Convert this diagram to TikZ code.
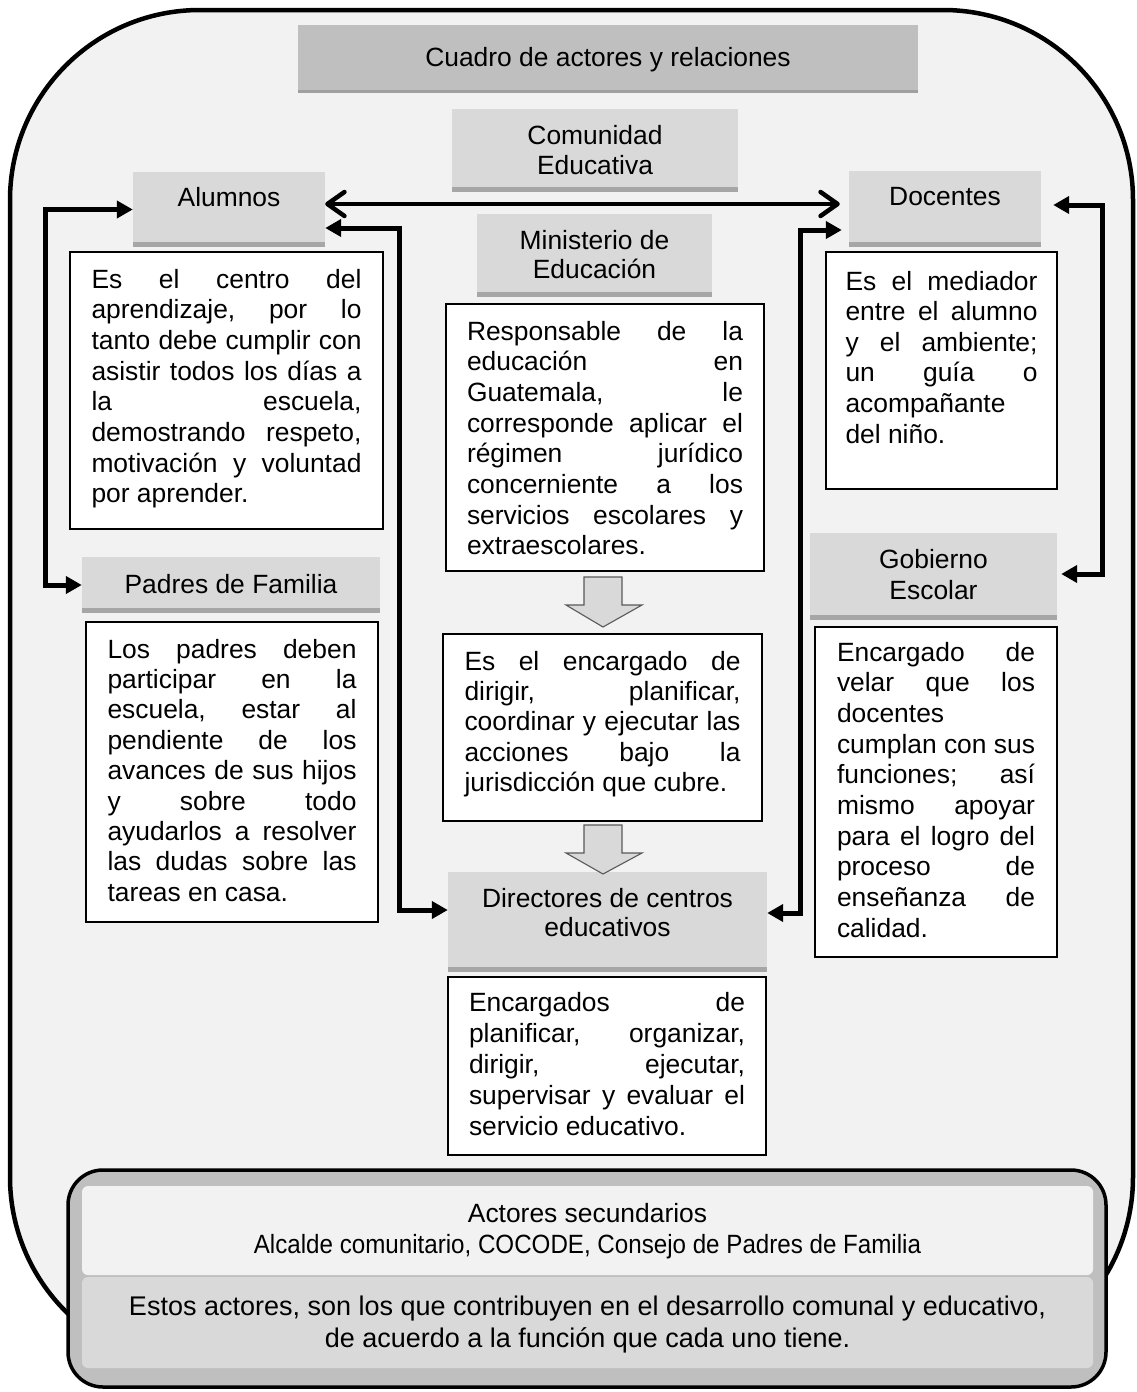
\documentclass[tikz,border=0pt]{standalone}
\usepackage{fontspec}
\usepackage{graphicx}
\setmainfont{Liberation Sans}
\usetikzlibrary{arrows.meta}
\definecolor{bgc}{HTML}{F2F2F2}
\definecolor{hdfill}{HTML}{D9D9D9}
\definecolor{hdshadow}{HTML}{A6A6A6}
\definecolor{ttlfill}{HTML}{BFBFBF}
\definecolor{ttlshadow}{HTML}{A0A0A0}
\definecolor{secfill}{HTML}{BFBFBF}
\definecolor{blockarrow}{HTML}{D9D9D9}
\hbadness=10000 \vbadness=10000 \hfuzz=3pt \vfuzz=5pt
% #1 height, #2 text width, #3 first baseline from top, #4 baselineskip, #5 content
\newcommand\boxt[5]{\begin{minipage}[c][#1pt][t]{#2pt}\fontsize{26.4pt}{#4pt}\selectfont\frenchspacing\vspace*{\dimexpr#3pt-0.7\baselineskip\relax}#5\end{minipage}}
\newcommand\jl[1]{\hbox to\hsize{\strut#1}}
\newcommand\lastl[1]{\hbox to\hsize{\strut#1\hfil}}
\tikzset{
  hdr/.style={draw=none, fill=hdfill, inner sep=0pt,
    path picture={\fill[hdshadow] ([yshift=5pt]path picture bounding box.south west) rectangle (path picture bounding box.south east);}},
  ttl/.style={draw=none, fill=ttlfill, inner sep=0pt,
    path picture={\fill[ttlshadow] ([yshift=3pt]path picture bounding box.south west) rectangle (path picture bounding box.south east);}},
  tbox/.style={draw=black, line width=1.6pt, fill=white, inner sep=0pt},
  conn/.style={line width=5pt, {Triangle[length=16pt,width=17pt]}-{Triangle[length=16pt,width=17pt]}},
  dbl/.style={line width=4.5pt, {Straight Barb[length=17pt,width=24pt,round]}-{Straight Barb[length=17pt,width=24pt,round]}},
  garrow/.style={fill=blockarrow, draw=black!65, line width=1.1pt, line join=miter},
  panel/.style={inner sep=0pt, rounded corners=6pt}
}
\begin{document}
\begin{tikzpicture}[x=1pt,y=-1pt]
\useasboundingbox (0,0) rectangle (1137,1392);
\fill[white] (0,0) rectangle (1137,1392);
% outer frame
\draw[line width=4.5pt, fill=bgc, rounded corners=190pt] (10,10) rectangle (1133,1367);

% headers
\node[ttl, minimum width=620pt, minimum height=68pt] (title) at (608,59)
  {\boxt{68}{600}{41}{30}{\centering\strut Cuadro de actores y relaciones}};
\node[hdr, minimum width=286pt, minimum height=83pt] (comu) at (595,150.5)
  {\boxt{83}{280}{35}{30}{\centering\strut Comunidad\\\strut Educativa}};
\node[hdr, minimum width=192pt, minimum height=75pt] (alum) at (229,209.5)
  {\boxt{75}{190}{34}{30}{\centering\strut Alumnos}};
\node[hdr, minimum width=192pt, minimum height=76pt] (doce) at (945,209)
  {\boxt{76}{190}{34}{30}{\centering\strut Docentes}};
\node[hdr, minimum width=235pt, minimum height=83pt] (mini) at (594.5,255.5)
  {\boxt{83}{230}{35}{29.5}{\centering\strut Ministerio de\\\strut Educación}};
\node[hdr, minimum width=298pt, minimum height=56pt] (padr) at (231,585)
  {\boxt{56}{290}{36}{30}{\centering\strut Padres de Familia}};
\node[hdr, minimum width=247pt, minimum height=87pt] (gob) at (933.5,576.5)
  {\boxt{87}{240}{35}{31}{\centering\strut Gobierno\\\strut Escolar}};
\node[hdr, minimum width=319pt, minimum height=100pt] (dir) at (607.5,922)
  {\boxt{100}{315}{35}{29.5}{\centering\strut Directores de centros\\\strut educativos}};

% text boxes
\node[tbox, minimum width=313pt, minimum height=277pt] (alumtxt) at (226.5,390.5)
  {\boxt{277}{270}{36}{30.7}{%
   \jl{Es el centro del}\jl{aprendizaje, por lo}\jl{tanto debe cumplir con}\jl{asistir todos los días a}%
   \jl{la escuela,}\jl{demostrando respeto,}\jl{motivación y voluntad}\lastl{por aprender.}}};
\node[tbox, minimum width=318pt, minimum height=267pt] (minitxt) at (605,437.5)
  {\boxt{267}{276}{36}{30.7}{%
   \jl{Responsable de la}\jl{educación en}\jl{Guatemala, le}\jl{corresponde aplicar el}%
   \jl{régimen jurídico}\jl{concerniente a los}\jl{servicios escolares y}\lastl{extraescolares.}}};
\node[tbox, minimum width=319pt, minimum height=187pt] (enc) at (602.5,727.5)
  {\boxt{187}{276}{36}{30.4}{%
   \jl{Es el encargado de}\jl{dirigir, planificar,}\jl{coordinar y ejecutar las}\jl{acciones bajo la}%
   \lastl{jurisdicción que cubre.}}};
\node[tbox, minimum width=318pt, minimum height=178pt] (dirtxt) at (607,1066)
  {\boxt{178}{276}{34}{31}{%
   \jl{Encargados de}\jl{planificar, organizar,}\jl{dirigir, ejecutar,}\jl{supervisar y evaluar el}%
   \lastl{servicio educativo.}}};
\node[tbox, minimum width=292pt, minimum height=300pt] (padtxt) at (232,772)
  {\boxt{300}{249}{36}{30.4}{%
   \jl{Los padres deben}\jl{participar en la}\jl{escuela, estar al}\jl{pendiente de los}%
   \jl{avances de sus hijos}\jl{y sobre todo}\jl{ayudarlos a resolver}\jl{las dudas sobre las}%
   \lastl{tareas en casa.}}};
\node[tbox, minimum width=231pt, minimum height=237pt] (doctxt) at (941.5,370.5)
  {\boxt{237}{192}{38}{30.6}{%
   \jl{Es el mediador}\jl{entre el alumno}\jl{y el ambiente;}\jl{un guía o}%
   \lastl{acompañante}\lastl{del niño.}}};
\node[tbox, minimum width=242pt, minimum height=330pt] (gobtxt) at (936,792)
  {\boxt{330}{198}{34}{30.7}{%
   \jl{Encargado de}\jl{velar que los}\lastl{docentes}\jl{cumplan con sus}%
   \jl{funciones; así}\jl{mismo apoyar}\jl{para el logro del}\jl{proceso de}%
   \jl{enseñanza de}\lastl{calidad.}}};

% gray block arrows
\draw[garrow] (584,577) -- (622,577) -- (622,605) -- (642,605) -- (603,627) -- (566,605) -- (584,605) -- cycle;
\draw[garrow] (584,825) -- (622,825) -- (622,853) -- (642,853) -- (603,874) -- (566,853) -- (584,853) -- cycle;

% connector guide coordinates
\coordinate (LX) at (45,0);
\coordinate (MX) at (399,0);
\coordinate (RX) at (800,0);
\coordinate (RRX) at (1102,0);

% Alumnos <-> Padres
\draw[conn] (alum.west) -- (alum.west -| LX) -- (padr.west -| LX) -- (padr.west);
% Alumnos <-> Docentes
\coordinate (d1) at ([yshift=5.5pt]alum.east);
\draw[dbl, shorten >=9pt] (d1) -- (d1 -| doce.west);
% Alumnos <-> Directores
\coordinate (a1) at ([yshift=-18.5pt]alum.east);
\coordinate (a2) at ([yshift=12pt]dir.west);
\draw[conn] (a1) -- (a1 -| MX) -- (a2 -| MX) -- (a2);
% Docentes <-> Directores
\coordinate (b1) at ([yshift=-21pt]doce.west);
\coordinate (b2) at ([yshift=9pt]dir.east);
\draw[conn, shorten <=7pt] (b1) -- (b1 -| RX) -- (b2 -| RX) -- (b2);
% Docentes <-> Gobierno
\coordinate (c1) at ([yshift=4pt]doce.east);
\coordinate (c2) at ([yshift=2.5pt]gob.east);
\draw[conn, shorten <=12pt, shorten >=4pt] (c1) -- (c1 -| RRX) -- (c2 -| RRX) -- (c2);

% secondary actors box
\node[draw=black, line width=3.5pt, fill=secfill, rounded corners=35pt, minimum width=1038pt, minimum height=217pt, inner sep=0pt] (sec) at (587,1278.5) {};
\node[panel, fill=bgc, minimum width=1011pt, minimum height=89pt] (sectop) at (587.5,1230.5)
  {\boxt{89}{1000}{36}{31}{\centering\strut Actores secundarios\\\strut\scalebox{0.915}[1]{Alcalde comunitario, COCODE, Consejo de Padres de Familia}}};
\node[panel, fill=hdfill, minimum width=1011pt, minimum height=91pt] (secbot) at (587.5,1322.5)
  {\boxt{91}{1000}{38}{32}{\centering\fontsize{27pt}{32pt}\selectfont\strut Estos actores, son los que contribuyen en el desarrollo comunal y educativo,\\\strut de acuerdo a la función que cada uno tiene.}};
\end{tikzpicture}
\end{document}
